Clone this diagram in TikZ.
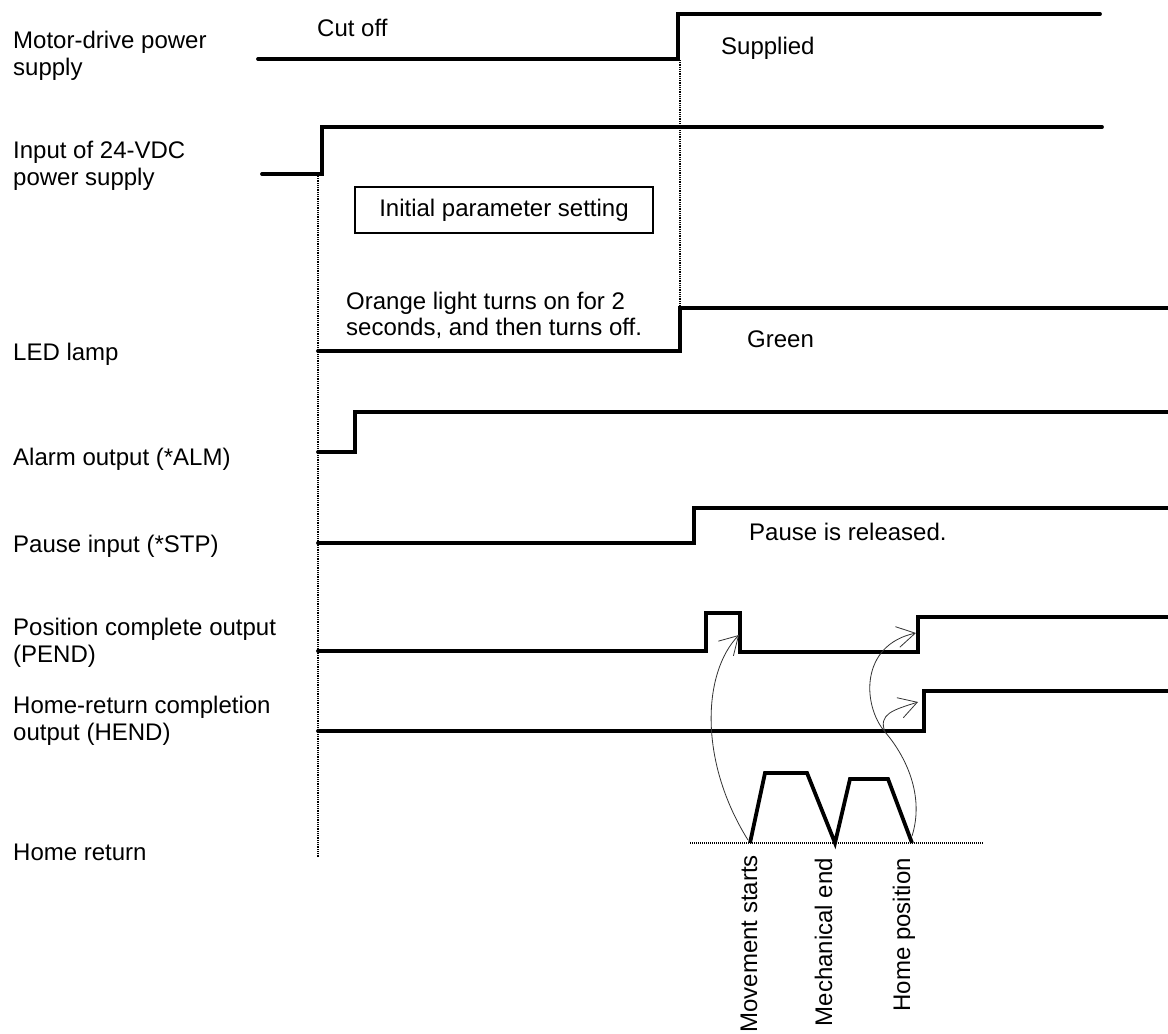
\documentclass[tikz,border=0pt]{standalone}
\usepackage{fontspec}
\setmainfont{Liberation Sans}
\usetikzlibrary{arrows.meta}
\begin{document}
\begin{tikzpicture}[x=1pt,y=-1pt,
  lbl/.style={anchor=base west, inner sep=0pt},
  sig/.style={line width=3.8pt, line cap=round, line join=miter},
  dotline/.style={line width=1.3pt, dash pattern=on 0.9pt off 0.9pt},
  cue/.style={line width=0.8pt, black!80, -{Straight Barb[length=18pt,width=21pt]}},
  font=\fontsize{24}{26.5}\selectfont]
\useasboundingbox[fill=white] (0,0) rectangle (1168,1034);

% left labels
\node[lbl] (l1a) at (13,48) {Motor-drive power};
\node[lbl] (l1b) at (13,75) {supply};
\node[lbl] (l2a) at (13,158) {Input of 24-VDC};
\node[lbl] (l2b) at (13,185) {power supply};
\node[lbl] (l3) at (13,360) {LED lamp};
\node[lbl] (l4) at (13,465) {Alarm output (*ALM)};
\node[lbl] (l5) at (13,552) {Pause input (*STP)};
\node[lbl] (l6a) at (13,635) {Position complete output};
\node[lbl] (l6b) at (13,662) {(PEND)};
\node[lbl] (l7a) at (13,713) {Home-return completion};
\node[lbl] (l7b) at (13,740) {output (HEND)};
\node[lbl] (l8) at (13,860) {Home return};

% annotations
\node[lbl] (cut) at (317,36) {Cut off};
\node[lbl] (sup) at (721,54) {Supplied};
\node[draw, line width=1.5pt, minimum width=298pt, minimum height=46pt, inner sep=0pt] (box) at (504,210) {Initial parameter setting};
\node[lbl] (or1) at (346,309) {Orange light turns on for 2};
\node[lbl] (or2) at (346,335) {seconds, and then turns off.};
\node[lbl] (grn) at (747,347) {Green};
\node[lbl] (rel) at (749,540) {Pause is released.};

% dotted guides
\draw[dotline] (318,176) -- (318,858);
\draw[dotline] (680,60) -- (680,306);
\draw[line width=1.8pt, dash pattern=on 1pt off 1pt] (690,843) -- (984,843);

% signals
\draw[sig] (258,59) -- (678,59) -- (678,14) -- (1100,14);
\draw[sig] (262,174) -- (322,174) -- (322,127) -- (1102,127);
\draw[sig] (318,351) -- (680,351) -- (680,308) -- (1170,308);
\draw[sig] (318,452) -- (355,452) -- (355,412) -- (1170,412);
\draw[sig] (318,543) -- (694,543) -- (694,508) -- (1170,508);
\draw[sig] (318,651) -- (706,651) -- (706,613) -- (740,613) -- (740,652) -- (918,652) -- (918,617) -- (1170,617);
\draw[sig] (318,731) -- (924,731) -- (924,691) -- (1170,691);

% home return profile
\coordinate (ms) at (750,843);
\coordinate (me) at (835,843);
\coordinate (hp) at (912,843);
\draw[sig, line cap=butt] (ms) -- (765,773) -- (807,773) -- (me) -- (850,779) -- (888,779) -- (hp);

% vertical labels
\node[rotate=90, anchor=base east, inner sep=0pt] (mvs) at (757,855) {Movement starts};
\node[rotate=90, anchor=base east, inner sep=0pt] (mce) at (832,858) {Mechanical end};
\node[rotate=90, anchor=base east, inner sep=0pt] (hpo) at (910,858) {Home position};

% cue arrows
\coordinate (a1s) at (748,840);
\coordinate (a1e) at (739,635);
\coordinate (a2s) at (912,836);
\coordinate (mid) at (885,732);
\coordinate (a2e) at (916,633);
\coordinate (a3e) at (918,702);
\draw[cue] (a1s) .. controls (698,760) and (703,672) .. (a1e);
\draw[cue] (a2s) .. controls (925,795) and (905,755) .. (mid) .. controls (862,705) and (860,645) .. (a2e);
\draw[cue] (mid) .. controls (878,714) and (893,710) .. (a3e);
\end{tikzpicture}
\end{document}
